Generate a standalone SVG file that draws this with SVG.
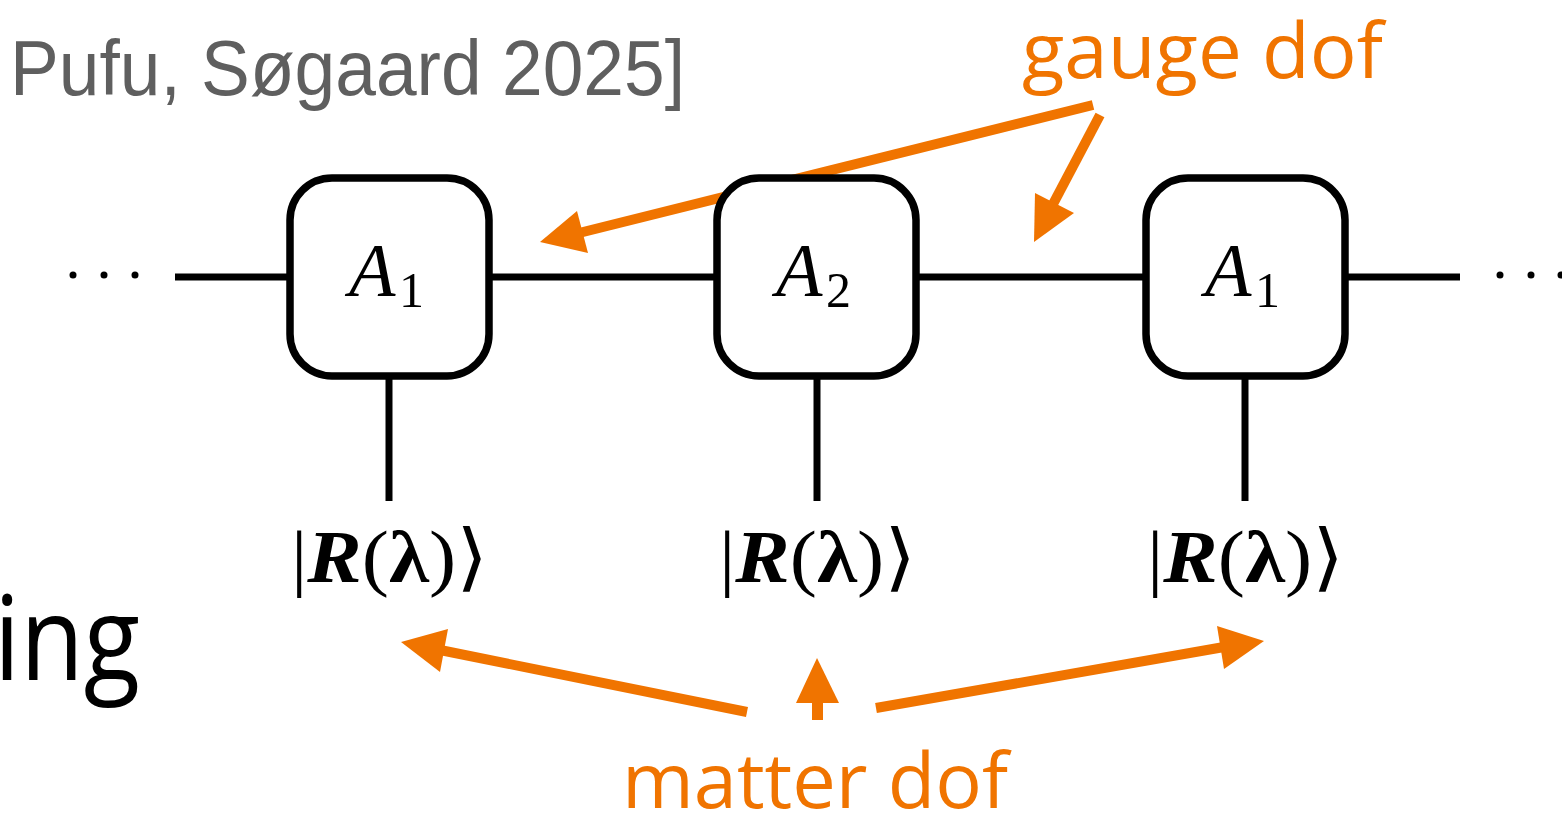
<svg xmlns="http://www.w3.org/2000/svg" width="1562" height="817" viewBox="0 0 1562 817">
  <style>
    .wire { stroke: #000; stroke-width: 7; fill: none; }
    .box { stroke: #000; stroke-width: 7.5; fill: #fff; }
    .orange { stroke: #F07400; stroke-width: 10; fill: none; }
    .head { fill: #F07400; }
    .math { font-family: "Liberation Serif", "DejaVu Serif", serif; fill: #000; }
    .sans { font-family: "Liberation Sans", "DejaVu Sans", sans-serif; }
    .lbl { font-family: "Open Sans", "Liberation Sans", sans-serif; fill: #F07400; font-size: 76px; }
  </style>

  <!-- citation fragment -->
  <text x="10" y="95" class="sans" font-size="78" fill="#5f5f5f" textLength="675" lengthAdjust="spacingAndGlyphs">Pufu, Søgaard 2025]</text>
  <!-- word fragment -->
  <text x="-6" y="680" font-family="Open Sans, Liberation Sans, sans-serif" font-size="118" fill="#000" textLength="146" lengthAdjust="spacingAndGlyphs">ing</text>

  <!-- orange annotation arrows (drawn beneath the tensors) -->
  <g id="connectors">
    <line class="orange" x1="1093" y1="105" x2="575" y2="234"/>
    <polygon class="head" points="540,242 577,211 588,253"/>
    <line class="orange" x1="1100" y1="115" x2="1052" y2="206"/>
    <polygon class="head" points="1034,242 1035,193 1074,213"/>
    <line class="orange" x1="747" y1="712" x2="440" y2="650"/>
    <polygon class="head" points="401,642 448,629 440,672"/>
    <line class="orange" x1="876" y1="708" x2="1224" y2="647"/>
    <polygon class="head" points="1264,641 1217,626 1224,669"/>
    <rect class="head" x="812" y="700" width="11" height="20"/>
    <polygon class="head" points="817,658 796,703 839,703"/>
  </g>

  <!-- bond line and physical legs -->
  <g id="wires">
    <line class="wire" x1="175" y1="277" x2="1460" y2="277"/>
    <line class="wire" x1="389" y1="376" x2="389" y2="501"/>
    <line class="wire" x1="817" y1="376" x2="817" y2="501"/>
    <line class="wire" x1="1245" y1="376" x2="1245" y2="501"/>
  </g>

  <!-- ellipsis dots -->
  <g id="dots-left" fill="#000">
    <circle cx="73" cy="275" r="3.5"/>
    <circle cx="104" cy="275" r="3.5"/>
    <circle cx="135" cy="275" r="3.5"/>
  </g>
  <g id="dots-right" fill="#000">
    <circle cx="1500" cy="275" r="3.5"/>
    <circle cx="1531" cy="275" r="3.5"/>
    <circle cx="1561" cy="275" r="3.5"/>
  </g>

  <!-- tensors -->
  <g id="tensor-A1-left">
    <rect class="box" x="290" y="178" width="199" height="198" rx="42"/>
    <text class="math" x="349" y="296" font-size="76" font-style="italic">A</text>
    <text class="math" x="399" y="307" font-size="50">1</text>
  </g>
  <g id="tensor-A2">
    <rect class="box" x="717" y="178" width="199" height="198" rx="42"/>
    <text class="math" x="776" y="296" font-size="76" font-style="italic">A</text>
    <text class="math" x="826" y="307" font-size="50">2</text>
  </g>
  <g id="tensor-A1-right">
    <rect class="box" x="1146" y="178" width="199" height="198" rx="42"/>
    <text class="math" x="1205" y="296" font-size="76" font-style="italic">A</text>
    <text class="math" x="1255" y="307" font-size="50">1</text>
  </g>

  <!-- physical states -->
  <g id="ket-1">
    <text class="math" x="291" y="582" font-size="74" textLength="197" lengthAdjust="spacingAndGlyphs">|<tspan font-weight="bold" font-style="italic">R</tspan>(<tspan font-weight="bold">λ</tspan>)⟩</text>
  </g>
  <g id="ket-2">
    <text class="math" x="719" y="582" font-size="74" textLength="197" lengthAdjust="spacingAndGlyphs">|<tspan font-weight="bold" font-style="italic">R</tspan>(<tspan font-weight="bold">λ</tspan>)⟩</text>
  </g>
  <g id="ket-3">
    <text class="math" x="1147" y="582" font-size="74" textLength="197" lengthAdjust="spacingAndGlyphs">|<tspan font-weight="bold" font-style="italic">R</tspan>(<tspan font-weight="bold">λ</tspan>)⟩</text>
  </g>

  <!-- annotation labels -->
  <g id="label-gauge">
    <text class="lbl" x="1022" y="78" textLength="361" lengthAdjust="spacingAndGlyphs">gauge dof</text>
  </g>
  <g id="label-matter">
    <text class="lbl" x="622" y="808" textLength="386" lengthAdjust="spacingAndGlyphs">matter dof</text>
  </g>
</svg>
